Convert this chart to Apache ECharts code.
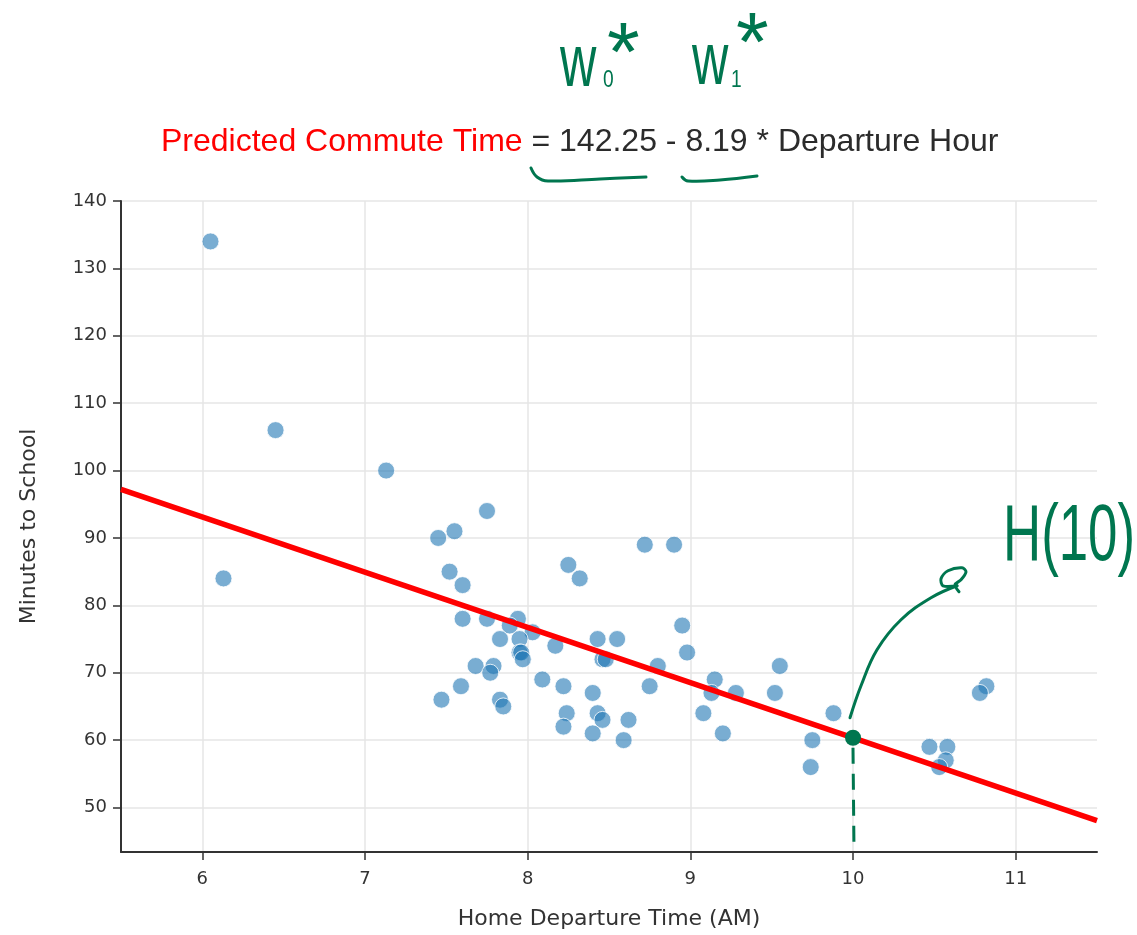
<!DOCTYPE html>
<html><head><meta charset="utf-8">
<script src="https://cdn.jsdelivr.net/npm/echarts@6/dist/echarts.min.js"></script>
<style>html,body{margin:0;padding:0;background:#fff}#c{width:1137px;height:935px}</style>
</head><body><div id="c"></div>
<script>
// ---- data ----
const departureHours = [
  6.05, 6.45, 6.13, 7.13,
  7.45, 7.55, 7.75, 7.52, 7.60, 8.25, 8.32, 8.72, 8.90,
  7.60, 7.75, 7.94, 7.89, 8.03, 7.83, 7.95, 8.17, 8.43, 8.55,
  7.95, 7.96, 7.97, 8.46, 8.48, 8.80, 7.68, 7.79, 7.77, 8.09,
  8.22, 7.59, 8.75, 8.40, 7.47, 7.83, 7.85, 8.24, 8.43, 8.46,
  8.62, 8.22, 8.40, 8.59,
  8.95, 8.98, 9.15, 9.13, 9.28, 9.08, 9.20, 9.55, 9.52, 9.88, 9.75, 9.74,
  10.82, 10.78, 10.47, 10.58, 10.57, 10.53
];
const commuteMinutes = [
  134, 106, 84, 100,
  90, 91, 94, 85, 83, 86, 84, 89, 89,
  78, 78, 78, 77, 76, 75, 75, 74, 75, 75,
  73, 73, 72, 72, 72, 71, 71, 71, 70, 69,
  68, 68, 68, 67, 66, 66, 65, 64, 64, 63,
  63, 62, 61, 60,
  77, 73, 69, 67, 67, 64, 61, 71, 67, 64, 60, 56,
  68, 67, 59, 59, 57, 56
];
const xTicks = [6, 7, 8, 9, 10, 11];
const yTicks = [50, 60, 70, 80, 90, 100, 110, 120, 130, 140];
const intercept = 142.25;
const slope = -8.19;
const lineXs = [5.5, 11.5];
const markHour = 10;

const G = '#00764f';
const FONT = 'DejaVu Sans';

const chart = echarts.init(document.getElementById('c'));
const option = {
  animation: false,
  backgroundColor: '#fff',
  title: {
    text: '{r|Predicted Commute Time}{k| = 142.25 - 8.19 * Departure Hour}',
    left: 161, top: 124, padding: 0,
    textStyle: {
      fontWeight: 'normal',
      rich: {
        r: {color: '#ff0000', fontFamily: 'Liberation Sans', fontWeight: 'normal', fontSize: 32, lineHeight: 36},
        k: {color: '#2b2b2b', fontFamily: 'Liberation Sans', fontWeight: 'normal', fontSize: 32, lineHeight: 36}
      }
    }
  },
  grid: {left: 121, right: 40, top: 201, bottom: 81, containLabel: false},
  xAxis: {
    type: 'value', min: 5.5, max: 11.5,
    name: 'Home Departure Time (AM)', nameLocation: 'middle', nameGap: 56,
    nameTextStyle: {fontFamily: FONT, fontSize: 22, color: '#333'},
    axisLine: {show: true, onZero: false, lineStyle: {color: '#333', width: 2}},
    axisTick: {show: true, length: 8, customValues: xTicks, lineStyle: {color: '#333', width: 1.5}},
    axisLabel: {customValues: xTicks, fontFamily: FONT, fontSize: 18, color: '#333', margin: 18},
    splitLine: {show: true, lineStyle: {color: '#e6e6e6', width: 1.5}}
  },
  yAxis: {
    type: 'value', min: 43.4, max: 140,
    name: 'Minutes to School', nameLocation: 'middle', nameGap: 81,
    nameTextStyle: {fontFamily: FONT, fontSize: 22, color: '#333'},
    axisLine: {show: true, onZero: false, lineStyle: {color: '#333', width: 2}},
    axisTick: {show: true, length: 8, customValues: yTicks, lineStyle: {color: '#333', width: 1.5}},
    axisLabel: {customValues: yTicks, fontFamily: FONT, fontSize: 18, color: '#333', margin: 14},
    splitLine: {show: true, lineStyle: {color: '#e6e6e6', width: 1.5}}
  },
  series: [
    {
      type: 'scatter',
      data: departureHours.map((x, i) => [x, commuteMinutes[i]]),
      symbolSize: 17,
      itemStyle: {color: 'rgba(31,119,180,0.75)', borderColor: '#fff', borderWidth: 1},
      silent: true
    },
    {
      type: 'line',
      data: lineXs.map(x => [x, intercept + slope * x]),
      showSymbol: false,
      lineStyle: {color: '#ff0000', width: 5.5},
      silent: true
    }
  ]
};
chart.setOption(option);

const p = chart.convertToPixel({gridIndex: 0}, [markHour, intercept + slope * markHour]);
const b = chart.convertToPixel({gridIndex: 0}, [markHour, 43.4]);
const hand = {stroke: G, lineWidth: 3, fill: null, lineCap: 'round', lineJoin: 'round'};
const ht = (txt, x, y, size, sx) => ({
  type: 'text', x: x, y: y, scaleX: sx || 1, z: 100,
  style: {text: txt, x: 0, y: 0, fill: G, font: size + 'px "Liberation Sans"', verticalAlign: 'middle'}
});
chart.setOption({
  graphic: [
    ht('w', 560, 66, 74, 0.68),
    ht('0', 603, 80, 24, 0.8),
    ht('*', 607, 58, 84, 1),
    ht('w', 692, 64, 74, 0.68),
    ht('1', 731, 80, 24, 0.8),
    ht('*', 736, 48, 84, 1),
    ht('H(10)', 1003, 538, 80, 0.66),
    {type: 'polyline', z: 100, shape: {points: [[531,168],[537,177],[548,181],[600,179],[646,177]], smooth: 0.4}, style: hand},
    {type: 'polyline', z: 100, shape: {points: [[682,177],[688,181],[720,180],[757,176]], smooth: 0.4}, style: hand},
    {type: 'polyline', z: 100, shape: {points: [[p[0]-3, p[1]-20],[p[0]+8, p[1]-52],[p[0]+24, p[1]-88],[p[0]+48, p[1]-118],[p[0]+78, p[1]-140],[p[0]+104, p[1]-152]], smooth: 0.4}, style: hand},
    {type: 'polyline', z: 100, shape: {points: [[p[0]+104, p[1]-152],[p[0]+90, p[1]-152],[p[0]+88, p[1]-159],[p[0]+95, p[1]-167],[p[0]+109, p[1]-170],[p[0]+113, p[1]-166],[p[0]+108, p[1]-158],[p[0]+102, p[1]-153],[p[0]+106, p[1]-146]], smooth: 0.3}, style: hand},
    {type: 'circle', z: 100, shape: {cx: p[0], cy: p[1], r: 8}, style: {fill: G}},
    {type: 'line', z: 100, shape: {x1: p[0], y1: p[1] + 10, x2: p[0] + 1, y2: b[1] - 1}, style: {stroke: G, lineWidth: 3, lineDash: [16, 10]}}
  ]
});
</script>
</body></html>
